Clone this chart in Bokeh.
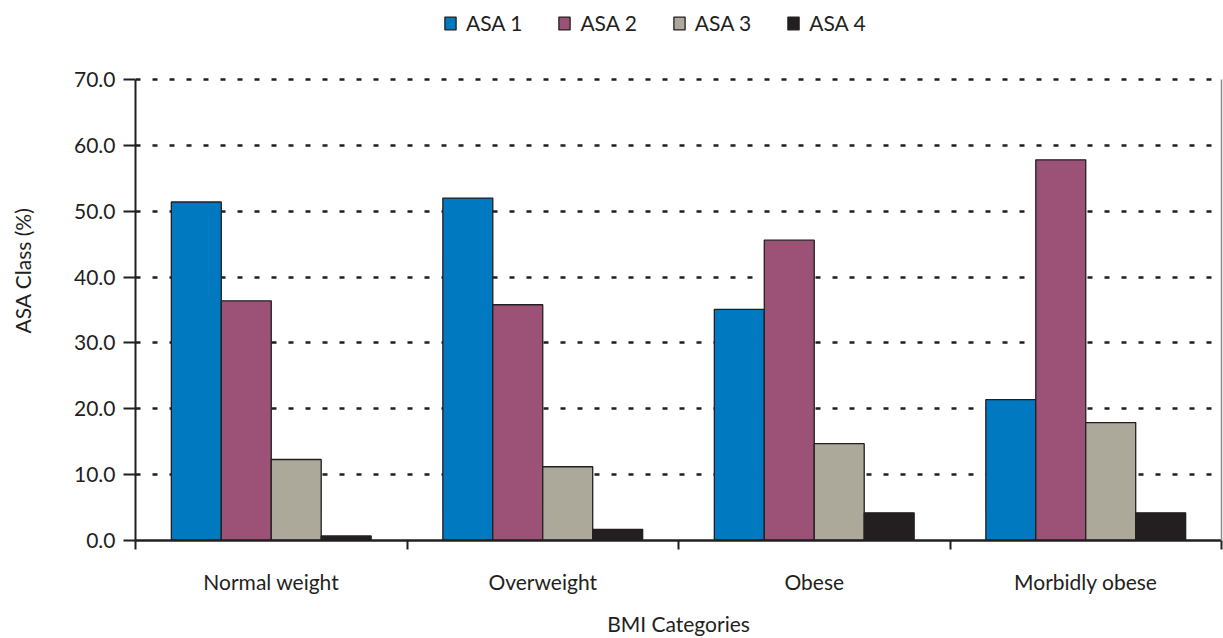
from bokeh.plotting import figure
from bokeh.models import (ColumnDataSource, Range1d, FixedTicker, LinearAxis, Grid,
                          NumeralTickFormatter, Legend, LegendItem)
from bokeh.transform import dodge
from bokeh.embed import file_html
from bokeh.resources import INLINE

# BMI categories and the share of patients in each ASA class (%)
categories = ["Normal weight", "Overweight", "Obese", "Morbidly obese"]
asa1 = [51.4, 52.0, 35.1, 21.4]
asa2 = [36.4, 35.8, 45.6, 57.8]
asa3 = [12.3, 11.2, 14.7, 17.9]
asa4 = [0.7, 1.7, 4.2, 4.2]
series_names = ["ASA 1", "ASA 2", "ASA 3", "ASA 4"]
y_ticks = [0, 10, 20, 30, 40, 50, 60, 70]

colors = ["#0079c1", "#9c5276", "#aca99a", "#231f20"]
FONT = "Lato"
INK = "#231f20"

centers = [i + 0.5 for i in range(len(categories))]
boundaries = list(range(len(categories) + 1))
source = ColumnDataSource(dict(x=centers, asa1=asa1, asa2=asa2, asa3=asa3, asa4=asa4))

# the value range runs past 70 to leave headroom for the legend;
# the axis lines themselves stop at 70
p = figure(width=1223, height=638, output_backend="svg", toolbar_location=None,
           x_range=Range1d(0, len(categories)), y_range=Range1d(0, 82.0),
           x_axis_type=None, y_axis_type=None,
           min_border_left=135, min_border_right=2, min_border_top=0, min_border_bottom=98)
p.outline_line_color = None
p.background_fill_color = "white"
p.border_fill_color = "white"

# dashed horizontal grid
grid = Grid(dimension=1, ticker=FixedTicker(ticks=y_ticks[1:]),
            grid_line_color=INK, grid_line_width=2.5, grid_line_dash="5 12")
p.add_layout(grid)

# bars
bar_w = 0.184
offsets = [-0.276, -0.092, 0.092, 0.276]
renderers = []
for col, off, color, name in zip(["asa1", "asa2", "asa3", "asa4"], offsets, colors, series_names):
    r = p.vbar(x=dodge("x", off, range=p.x_range), top=col, width=bar_w, bottom=0,
               source=source, fill_color=color, line_color=INK, line_width=1.3)
    renderers.append((name, r))

# y axis
yaxis = LinearAxis(ticker=FixedTicker(ticks=y_ticks), bounds=(0, 70),
                   formatter=NumeralTickFormatter(format="0.0"),
                   axis_label="ASA Class (%)")
yaxis.axis_line_color = INK
yaxis.axis_line_width = 2
yaxis.major_tick_line_color = INK
yaxis.major_tick_line_width = 2
yaxis.major_tick_in = 0
yaxis.major_tick_out = 12
yaxis.minor_tick_line_color = None
yaxis.major_label_text_font = FONT
yaxis.major_label_text_font_size = "21px"
yaxis.major_label_text_color = INK
yaxis.major_label_standoff = 8
yaxis.axis_label_text_font = FONT
yaxis.axis_label_text_font_size = "21px"
yaxis.axis_label_text_font_style = "normal"
yaxis.axis_label_text_color = INK
yaxis.axis_label_standoff = 36
p.add_layout(yaxis, "left")

# x axis: category names at the centres, tick marks on the category boundaries
xaxis = LinearAxis(ticker=FixedTicker(ticks=centers, minor_ticks=boundaries),
                   major_label_overrides={c: n for c, n in zip(centers, categories)},
                   axis_label="BMI Categories")
xaxis.axis_line_color = INK
xaxis.axis_line_width = 2.5
xaxis.major_tick_line_color = None
xaxis.major_tick_in = 0
xaxis.major_tick_out = 0
xaxis.minor_tick_line_color = INK
xaxis.minor_tick_line_width = 2
xaxis.minor_tick_in = 0
xaxis.minor_tick_out = 9
xaxis.major_label_text_font = FONT
xaxis.major_label_text_font_size = "21px"
xaxis.major_label_text_color = INK
xaxis.major_label_standoff = 19
xaxis.axis_label_text_font = FONT
xaxis.axis_label_text_font_size = "21px"
xaxis.axis_label_text_font_style = "normal"
xaxis.axis_label_text_color = INK
xaxis.axis_label_standoff = 14
p.add_layout(xaxis, "below")

# right frame edge
raxis = LinearAxis(ticker=FixedTicker(ticks=[]), bounds=(0, 70))
raxis.axis_line_color = "#8c8c8c"
raxis.axis_line_width = 1.5
raxis.major_tick_line_color = None
raxis.minor_tick_line_color = None
raxis.major_label_text_font_size = "0px"
p.add_layout(raxis, "right")

legend = Legend(items=[LegendItem(label=n, renderers=[r]) for n, r in renderers],
                orientation="horizontal", location=(308, 505),
                label_text_font=FONT, label_text_font_size="21px", label_text_color=INK,
                glyph_width=14, glyph_height=16, label_standoff=9, spacing=35,
                border_line_color=None, background_fill_alpha=0,
                padding=0, margin=0)
p.add_layout(legend, "center")

open("out.html", "w").write(file_html(p, INLINE))
